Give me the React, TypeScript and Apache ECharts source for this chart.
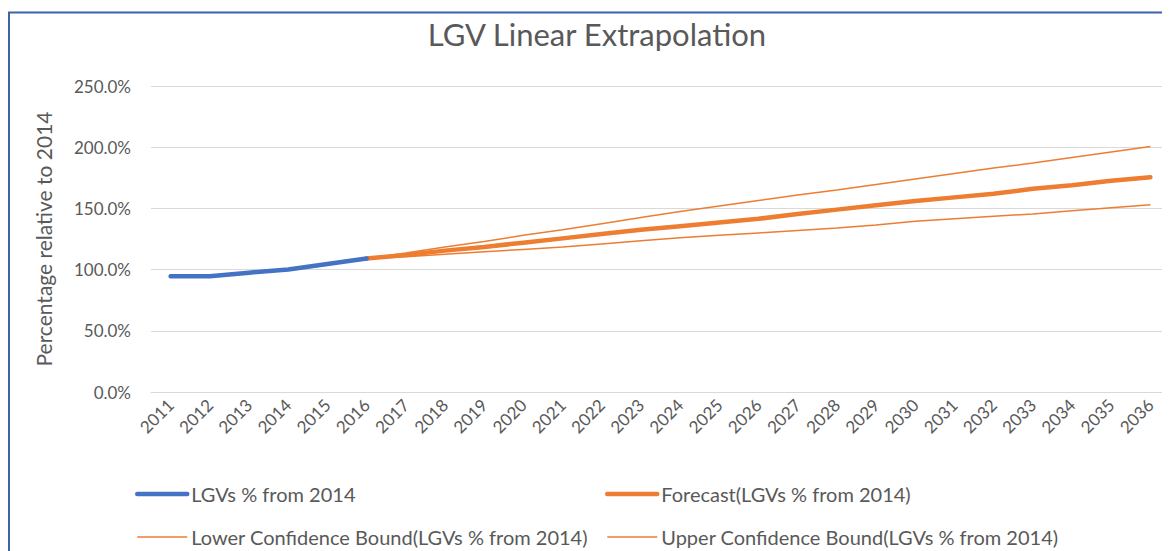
import React, { useEffect, useRef } from "react";
import * as echarts from "echarts";

const years = ["2011","2012","2013","2014","2015","2016","2017","2018","2019","2020","2021","2022","2023","2024","2025","2026","2027","2028","2029","2030","2031","2032","2033","2034","2035","2036"];
const actual = [94.5, 94.5, 97.5, 100, 104.5, 109];
const forecast = [109, 112, 115.5, 118.5, 122, 125.5, 129, 132.5, 135.5, 138.5, 141.5, 145.5, 149, 152.5, 156, 159, 162, 166, 169, 172.5, 175.5];
const lower = [109, 110.5, 112.5, 114.5, 116.5, 118.5, 121, 123.5, 126, 128, 130, 132, 134, 136.5, 139.5, 141.5, 143.5, 145.5, 148, 150.5, 153];
const upper = [109, 113.5, 118.5, 123, 128, 132.5, 137.5, 142.5, 147.5, 152, 156.5, 161, 165, 169.5, 174, 178.5, 183, 187, 191.5, 196, 200.5];
const yTicks = { min: 0, max: 250, interval: 50 };
const forecastStart = 5;

const FONT = "Lato, 'Open Sans', sans-serif";
const GREY = "#595959";
const BLUE = "#4472C4";
const ORANGE = "#ED7D31";

function pad(arr: number[], offset: number): (number | null)[] {
  const out: (number | null)[] = years.map(() => null);
  arr.forEach((v, i) => { out[i + offset] = v; });
  return out;
}

export default function App() {
  const ref = useRef<HTMLDivElement>(null);
  useEffect(() => {
    if (!ref.current) return;
    const chart = echarts.init(ref.current, null, { renderer: "svg" });
    const names = [
      "LGVs % from 2014",
      "Forecast(LGVs % from 2014)",
      "Lower Confidence Bound(LGVs % from 2014)",
      "Upper Confidence Bound(LGVs % from 2014)",
    ];
    const thick = { width: 4.5, cap: "round" };
    const thin = { width: 1.5 };
    const legendBase = {
      orient: "vertical",
      top: 476,
      padding: 0,
      itemWidth: 50,
      itemHeight: 14,
      itemGap: 23,
      height: 80,
      itemStyle: { opacity: 0 },
      textStyle: { color: GREY, fontFamily: FONT, fontSize: 20, padding: [0, 0, 0, -1] },
    };
    chart.setOption({
      animation: false,
      backgroundColor: "#ffffff",
      title: {
        text: "LGV Linear Extrapolation",
        left: 584,
        textAlign: "center",
        top: 5,
        textStyle: { fontFamily: FONT, fontSize: 31, fontWeight: "normal", color: GREY },
      },
      graphic: [
        { type: "line", shape: { x1: 0, y1: 4.5, x2: 1162, y2: 4.5 }, style: { stroke: "#3D63A8", lineWidth: 2 } },
        { type: "line", shape: { x1: 1, y1: 4, x2: 1, y2: 543 }, style: { stroke: "#3D63A8", lineWidth: 2 } },
      ],
      grid: { left: 143, right: 0, top: 78, bottom: 159, containLabel: false },
      xAxis: {
        type: "category",
        data: years,
        boundaryGap: true,
        axisLine: { show: true, lineStyle: { color: "#d9d9d9" } },
        axisTick: { show: false },
        axisLabel: { rotate: 45, color: GREY, fontFamily: FONT, fontSize: 17, margin: 10, interval: 0 },
      },
      yAxis: {
        type: "value",
        min: yTicks.min,
        max: yTicks.max,
        interval: yTicks.interval,
        name: "Percentage relative to 2014",
        nameLocation: "middle",
        nameGap: 97,
        nameTextStyle: { color: GREY, fontFamily: FONT, fontSize: 21 },
        axisLine: { show: false },
        axisTick: { show: false },
        axisLabel: { color: GREY, fontFamily: FONT, fontSize: 17, margin: 20, formatter: (v: number) => v.toFixed(1) + "%" },
        splitLine: { lineStyle: { color: "#d9d9d9", width: 1 } },
      },
      legend: [
        {
          ...legendBase,
          left: 127,
          data: [
            { name: names[0], lineStyle: { color: BLUE, ...thick } },
            { name: names[2], lineStyle: { color: ORANGE, ...thin } },
          ],
        },
        {
          ...legendBase,
          left: 597,
          data: [
            { name: names[1], lineStyle: { color: ORANGE, ...thick } },
            { name: names[3], lineStyle: { color: ORANGE, ...thin } },
          ],
        },
      ],
      series: [
        { name: names[2], type: "line", data: pad(lower, forecastStart), symbol: "none", lineStyle: { color: ORANGE, ...thin }, itemStyle: { color: ORANGE } },
        { name: names[3], type: "line", data: pad(upper, forecastStart), symbol: "none", lineStyle: { color: ORANGE, ...thin }, itemStyle: { color: ORANGE } },
        { name: names[1], type: "line", data: pad(forecast, forecastStart), symbol: "none", lineStyle: { color: ORANGE, ...thick }, itemStyle: { color: ORANGE } },
        { name: names[0], type: "line", data: pad(actual, 0), symbol: "none", lineStyle: { color: BLUE, ...thick }, itemStyle: { color: BLUE } },
      ],
    });
    return () => chart.dispose();
  }, []);
  return <div ref={ref} style={{ width: 1162, height: 543 }} />;
}
